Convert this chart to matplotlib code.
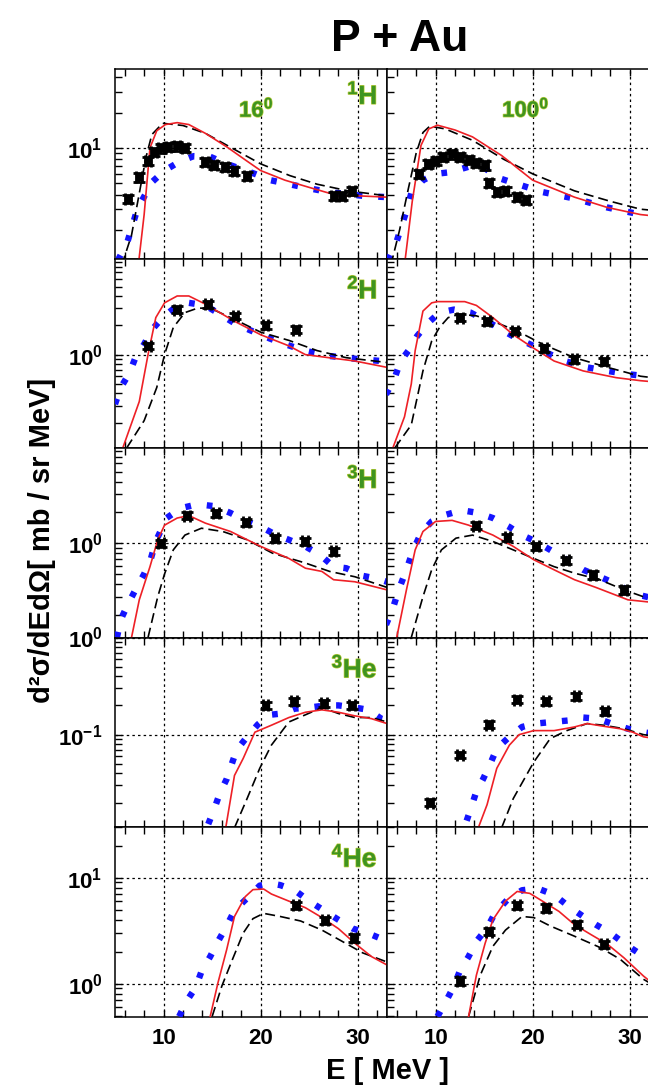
import numpy as np
import matplotlib.pyplot as plt
from matplotlib.ticker import MultipleLocator, LogLocator, FuncFormatter, NullFormatter
import matplotlib.patheffects as pe

plt.rcParams['font.family'] = ['Liberation Sans', 'DejaVu Sans']
plt.rcParams['font.weight'] = 'bold'
plt.rcParams['mathtext.fontset'] = 'custom'
plt.rcParams['mathtext.rm'] = 'Liberation Sans:bold'
plt.rcParams['mathtext.bf'] = 'Liberation Sans:bold'
plt.rcParams['mathtext.it'] = 'Liberation Sans:bold'

# ---------------- 1H ----------------
h1_16_red_E = [7.4, 8.0, 8.6, 9.3, 10.2, 11.4, 12.6, 14.3, 16.5, 18.5, 20.0, 22.5, 25.0, 28.0, 30.0, 33.0]
h1_16_red = [1.0, 2.7, 10.0, 14.0, 15.8, 16.4, 15.8, 13.3, 10.2, 7.8, 6.4, 5.3, 4.6, 3.9, 3.9, 3.8]
h1_16_dash_E = [5.7, 6.7, 7.5, 8.2, 8.8, 9.9, 12.0, 14.3, 17.0, 20.0, 23.0, 25.8, 29.0, 33.0]
h1_16_dash = [1.0, 1.8, 4.1, 8.4, 13.0, 16.2, 15.5, 13.3, 10.0, 7.3, 5.8, 4.9, 4.3, 3.9]
h1_16_blue_E = [5.3, 6.3, 7.3, 8.8, 10.1, 11.6, 13.1, 14.8, 16.5, 19.4, 21.0, 24.5, 27.0, 30.5, 33.0]
h1_16_blue = [1.1, 1.6, 3.0, 5.1, 6.4, 7.6, 8.5, 8.4, 7.3, 6.0, 5.3, 4.6, 4.2, 3.9, 3.8]
h1_16_exp_E = [6.3, 7.5, 8.4, 9.0, 9.7, 10.5, 11.4, 12.2, 14.3, 15.2, 16.3, 17.3, 18.6, 27.5, 28.4, 29.4]
h1_16_exp = [3.7, 5.6, 7.8, 9.2, 9.9, 10.2, 10.3, 10.0, 7.6, 7.2, 6.9, 6.4, 5.8, 3.9, 3.9, 4.3]

h1_100_red_E = [6.8, 7.6, 8.5, 9.3, 10.2, 12.0, 13.8, 16.8, 20.0, 24.3, 27.7, 31.1, 33.0]
h1_100_red = [1.0, 3.5, 10.5, 14.5, 15.6, 14.2, 12.4, 8.6, 5.3, 3.8, 3.1, 2.7, 2.6]
h1_100_dash_E = [5.4, 6.3, 7.2, 8.0, 8.7, 9.4, 11.0, 13.8, 17.0, 20.0, 24.3, 28.0, 31.1, 33.0]
h1_100_dash = [1.0, 2.0, 4.5, 9.0, 13.5, 15.3, 14.5, 11.6, 8.0, 6.0, 4.3, 3.5, 3.0, 2.9]
h1_100_blue_E = [5.1, 6.0, 7.0, 7.5, 8.7, 10.0, 11.5, 13.4, 14.9, 16.3, 17.8, 19.5, 21.0, 24.3, 27.7, 31.1, 33.0]
h1_100_blue = [1.1, 1.6, 2.9, 4.1, 5.3, 6.0, 6.2, 6.9, 6.9, 5.6, 5.1, 4.6, 4.2, 3.7, 3.1, 2.7, 2.6]
h1_100_exp_E = [8.3, 9.2, 10.0, 10.8, 11.7, 12.5, 13.4, 14.2, 15.1, 15.5, 16.3, 17.2, 18.4, 19.3]
h1_100_exp = [6.0, 7.3, 7.8, 8.4, 8.8, 8.4, 7.9, 7.5, 7.1, 5.0, 4.2, 4.3, 3.8, 3.6]

# ---------------- 2H ----------------
h2_16_red_E = [5.8, 7.5, 8.4, 9.2, 10.1, 11.4, 12.6, 14.3, 17.3, 20.0, 22.9, 24.6, 27.0, 29.7, 33.0]
h2_16_red = [0.11, 0.33, 1.0, 2.4, 3.4, 4.0, 4.0, 3.3, 2.2, 1.6, 1.23, 1.0, 0.93, 0.86, 0.74]
h2_16_dash_E = [6.2, 8.0, 9.3, 10.1, 11.0, 12.2, 13.5, 14.8, 17.3, 20.0, 22.9, 25.8, 28.8, 33.0]
h2_16_dash = [0.11, 0.21, 0.46, 1.0, 1.9, 2.7, 3.0, 3.0, 2.3, 1.7, 1.4, 1.1, 0.93, 0.83]
h2_16_blue_E = [5.0, 5.6, 6.5, 7.1, 8.0, 8.8, 9.9, 11.1, 12.6, 14.3, 15.8, 17.3, 18.8, 20.3, 22.0, 24.5, 27.0, 30.0, 33.0]
h2_16_blue = [0.31, 0.46, 0.65, 0.93, 1.28, 1.8, 2.4, 3.0, 3.4, 3.2, 2.6, 2.1, 1.8, 1.55, 1.33, 1.1, 0.97, 0.9, 0.85]
h2_16_exp_E = [8.4, 11.4, 14.6, 17.4, 20.5, 23.6]
h2_16_exp = [1.23, 2.9, 3.3, 2.5, 2.0, 1.8]

h2_100_red_E = [5.6, 6.8, 7.5, 7.9, 8.7, 9.6, 10.2, 13.0, 14.2, 15.9, 18.0, 20.0, 22.2, 25.2, 28.6, 31.1, 33.0]
h2_100_red = [0.11, 0.23, 0.5, 1.1, 2.8, 3.4, 3.5, 3.5, 3.2, 2.4, 1.6, 1.18, 0.86, 0.68, 0.58, 0.54, 0.52]
h2_100_dash_E = [5.8, 7.5, 8.7, 9.6, 10.4, 11.3, 12.5, 14.2, 15.9, 18.4, 21.0, 24.3, 27.7, 31.1, 33.0]
h2_100_dash = [0.11, 0.19, 0.68, 1.38, 1.9, 2.4, 2.6, 2.5, 2.2, 1.75, 1.28, 0.93, 0.74, 0.6, 0.57]
h2_100_blue_E = [4.9, 5.8, 6.4, 7.3, 8.1, 9.2, 10.4, 11.9, 13.6, 15.3, 16.8, 18.2, 19.7, 21.4, 23.3, 25.6, 27.7, 29.8, 33.0]
h2_100_blue = [0.39, 0.58, 0.86, 1.13, 1.55, 2.1, 2.7, 2.9, 2.7, 2.2, 1.8, 1.5, 1.28, 1.05, 0.86, 0.74, 0.68, 0.63, 0.58]
h2_100_exp_E = [12.5, 15.3, 18.2, 21.2, 24.3, 27.3]
h2_100_exp = [2.4, 2.2, 1.75, 1.16, 0.9, 0.86]

# ---------------- 3H ----------------
h3_16_red_E = [6.7, 7.5, 8.6, 9.4, 10.1, 11.4, 12.6, 14.3, 16.9, 20.0, 22.9, 24.6, 26.3, 27.5, 29.7, 33.0]
h3_16_red = [0.12, 0.28, 0.59, 1.08, 1.5, 1.76, 1.86, 1.57, 1.3, 0.93, 0.71, 0.57, 0.53, 0.44, 0.42, 0.35]
h3_16_dash_E = [8.4, 9.4, 10.1, 11.0, 12.2, 13.9, 16.1, 18.6, 21.2, 24.6, 27.1, 29.7, 33.0]
h3_16_dash = [0.12, 0.3, 0.5, 0.86, 1.2, 1.4, 1.3, 1.08, 0.8, 0.64, 0.53, 0.47, 0.37]
h3_16_blue_E = [5.2, 5.6, 6.3, 7.1, 8.0, 8.7, 9.2, 10.3, 11.8, 13.5, 15.2, 16.9, 18.6, 20.3, 21.6, 22.9,
                24.6, 26.1, 27.5, 28.8, 30.5, 32.0, 33.0]
h3_16_blue = [0.12, 0.18, 0.25, 0.35, 0.5, 0.71, 1.04, 1.76, 2.2, 2.4, 2.3, 1.97, 1.63, 1.4, 1.2, 1.08,
              0.93, 0.77, 0.59, 0.57, 0.48, 0.45, 0.42]
h3_16_exp_E = [9.7, 12.4, 15.4, 18.5, 21.5, 24.6, 27.5]
h3_16_exp = [1.0, 1.86, 1.97, 1.6, 1.12, 1.04, 0.83]

h3_100_red_E = [6.0, 7.0, 7.9, 8.7, 10.0, 11.7, 13.4, 15.9, 18.0, 20.1, 22.2, 24.3, 26.5, 28.6, 29.8, 31.4, 33.0]
h3_100_red = [0.12, 0.35, 0.86, 1.3, 1.63, 1.67, 1.5, 1.2, 0.93, 0.69, 0.55, 0.44, 0.37, 0.31, 0.28, 0.27, 0.26]
h3_100_dash_E = [7.5, 8.7, 9.6, 10.6, 12.1, 13.8, 15.9, 18.0, 20.1, 22.2, 24.3, 26.9, 29.4, 31.4, 33.0]
h3_100_dash = [0.12, 0.3, 0.55, 0.86, 1.12, 1.2, 1.04, 0.86, 0.71, 0.59, 0.51, 0.44, 0.35, 0.3, 0.28]
h3_100_blue_E = [4.9, 5.6, 6.2, 7.0, 7.7, 8.5, 9.6, 11.1, 12.7, 14.4, 15.9, 17.6, 18.9, 20.3, 21.8, 23.5,
                 25.2, 26.9, 28.6, 30.5, 33.0]
h3_100_blue = [0.16, 0.23, 0.35, 0.55, 0.86, 1.25, 1.63, 1.9, 2.1, 1.97, 1.76, 1.44, 1.2, 1.04, 0.86, 0.69,
               0.55, 0.47, 0.4, 0.32, 0.28]
h3_100_exp_E = [14.2, 17.4, 20.3, 23.4, 26.2, 29.4]
h3_100_exp = [1.48, 1.15, 0.93, 0.68, 0.49, 0.35]

# ---------------- 3He ----------------
he3_16_red_E = [16.4, 17.3, 18.2, 19.4, 21.1, 22.9, 24.6, 26.3, 28.0, 29.7, 31.4, 33.0]
he3_16_red = [0.011, 0.038, 0.057, 0.106, 0.125, 0.15, 0.17, 0.18, 0.17, 0.156, 0.146, 0.13]
he3_16_dash_E = [17.3, 18.6, 19.9, 21.1, 22.9, 24.6, 26.3, 28.0, 29.7, 31.4, 33.0]
he3_16_dash = [0.011, 0.022, 0.045, 0.078, 0.135, 0.16, 0.19, 0.165, 0.15, 0.15, 0.135]
he3_16_blue_E = [14.6, 15.2, 15.8, 16.5, 17.5, 18.6, 19.7, 20.9, 22.2, 23.5, 25.0, 26.7, 28.0, 29.7, 31.1, 32.4, 33.0]
he3_16_blue = [0.012, 0.017, 0.025, 0.035, 0.069, 0.095, 0.127, 0.16, 0.165, 0.185, 0.19, 0.2, 0.2, 0.19,
               0.18, 0.146, 0.14]
he3_16_exp_E = [20.5, 23.4, 26.5, 29.4]
he3_16_exp = [0.2, 0.22, 0.21, 0.2]

he3_100_red_E = [14.4, 15.3, 16.3, 17.6, 18.6, 20.1, 22.2, 24.3, 25.6, 27.3, 29.0, 30.3, 31.4, 33.0]
he3_100_red = [0.011, 0.019, 0.045, 0.078, 0.1, 0.11, 0.11, 0.12, 0.13, 0.122, 0.115, 0.106, 0.095, 0.09]
he3_100_dash_E = [16.8, 18.0, 20.1, 21.8, 23.5, 25.6, 27.3, 29.4, 31.4, 33.0]
he3_100_dash = [0.011, 0.022, 0.052, 0.091, 0.11, 0.13, 0.125, 0.115, 0.1, 0.095]
he3_100_blue_E = [13.2, 13.6, 14.2, 14.9, 15.7, 16.3, 17.6, 18.9, 20.3, 22.0, 23.7, 25.2, 26.7, 28.4, 29.8, 31.4, 33.0]
he3_100_blue = [0.013, 0.017, 0.026, 0.035, 0.052, 0.072, 0.095, 0.12, 0.13, 0.135, 0.14, 0.15, 0.146,
                0.127, 0.115, 0.106, 0.1]
he3_100_exp_E = [9.4, 12.5, 15.5, 18.4, 21.4, 24.5, 27.4]
he3_100_exp = [0.02, 0.062, 0.127, 0.23, 0.22, 0.25, 0.175]

# ---------------- 4He ----------------
he4_16_red_E = [14.8, 15.6, 16.5, 17.3, 18.4, 19.2, 20.3, 21.1, 22.9, 24.6, 26.3, 28.0, 29.7, 31.4, 33.0]
he4_16_red = [0.49, 1.02, 2.1, 4.3, 6.6, 7.7, 7.8, 7.0, 6.0, 5.2, 4.2, 3.3, 2.4, 1.8, 1.5]
he4_16_dash_E = [15.0, 16.0, 17.1, 18.2, 19.2, 20.3, 22.0, 24.1, 26.3, 28.4, 30.5, 33.0]
he4_16_dash = [0.49, 0.95, 1.7, 3.0, 4.1, 4.6, 4.3, 3.9, 3.2, 2.5, 1.95, 1.6]
he4_16_blue_E = [11.6, 12.4, 13.3, 13.9, 14.8, 15.6, 16.5, 17.3, 18.6, 19.9, 21.1, 22.0, 23.5, 25.0,
                 26.5, 28.0, 29.5, 31.0, 32.2, 33.0]
he4_16_blue = [0.49, 0.69, 0.92, 1.3, 1.8, 2.5, 3.5, 4.9, 6.4, 8.4, 8.8, 8.5, 7.6, 6.0, 4.9, 4.0, 3.3,
               3.0, 2.7, 2.6]
he4_16_exp_E = [23.6, 26.6, 29.6]
he4_16_exp = [5.5, 3.95, 2.7]

he4_100_red_E = [13.4, 14.2, 15.1, 15.9, 17.2, 18.4, 19.7, 21.0, 22.7, 24.3, 26.0, 27.7, 29.4, 31.4, 33.0]
he4_100_red = [0.49, 1.2, 2.4, 4.0, 6.0, 7.4, 7.1, 6.0, 4.8, 3.6, 2.9, 2.35, 1.75, 1.18, 0.9]
he4_100_dash_E = [13.4, 14.6, 15.9, 17.2, 18.9, 20.1, 21.8, 24.3, 26.9, 29.0, 31.4, 33.0]
he4_100_dash = [0.49, 1.2, 2.25, 3.2, 4.3, 4.2, 3.5, 2.8, 2.2, 1.7, 1.1, 0.9]
he4_100_blue_E = [10.2, 11.1, 11.9, 12.5, 13.4, 14.2, 15.3, 16.1, 17.4, 18.9, 20.5, 22.2, 23.7, 25.2,
                  26.5, 28.0, 29.4, 30.7, 33.0]
he4_100_blue = [0.49, 0.69, 0.95, 1.32, 1.8, 2.5, 3.35, 4.6, 6.2, 7.6, 7.9, 6.9, 5.35, 4.3, 3.6, 3.0,
                2.4, 2.0, 1.6]
he4_100_exp_E = [12.5, 15.5, 18.4, 21.4, 24.6, 27.3]
he4_100_exp = [1.06, 3.1, 5.5, 5.2, 3.6, 2.35]

particles = [r'$^{1}$H', r'$^{2}$H', r'$^{3}$H', r'$^{3}$He', r'$^{4}$He']
angles = [r'16$^{0}$', r'100$^{0}$']
y_ranges = [(1.14, 47.0), (0.11, 9.7), (0.12, 8.5), (0.0112, 1.0), (0.49, 30.0)]

rows = [
    [(h1_16_red_E, h1_16_red, h1_16_dash_E, h1_16_dash, h1_16_blue_E, h1_16_blue, h1_16_exp_E, h1_16_exp),
     (h1_100_red_E, h1_100_red, h1_100_dash_E, h1_100_dash, h1_100_blue_E, h1_100_blue, h1_100_exp_E, h1_100_exp)],
    [(h2_16_red_E, h2_16_red, h2_16_dash_E, h2_16_dash, h2_16_blue_E, h2_16_blue, h2_16_exp_E, h2_16_exp),
     (h2_100_red_E, h2_100_red, h2_100_dash_E, h2_100_dash, h2_100_blue_E, h2_100_blue, h2_100_exp_E, h2_100_exp)],
    [(h3_16_red_E, h3_16_red, h3_16_dash_E, h3_16_dash, h3_16_blue_E, h3_16_blue, h3_16_exp_E, h3_16_exp),
     (h3_100_red_E, h3_100_red, h3_100_dash_E, h3_100_dash, h3_100_blue_E, h3_100_blue, h3_100_exp_E, h3_100_exp)],
    [(he3_16_red_E, he3_16_red, he3_16_dash_E, he3_16_dash, he3_16_blue_E, he3_16_blue, he3_16_exp_E, he3_16_exp),
     (he3_100_red_E, he3_100_red, he3_100_dash_E, he3_100_dash, he3_100_blue_E, he3_100_blue, he3_100_exp_E, he3_100_exp)],
    [(he4_16_red_E, he4_16_red, he4_16_dash_E, he4_16_dash, he4_16_blue_E, he4_16_blue, he4_16_exp_E, he4_16_exp),
     (he4_100_red_E, he4_100_red, he4_100_dash_E, he4_100_dash, he4_100_blue_E, he4_100_blue, he4_100_exp_E, he4_100_exp)],
]

W, H = 648, 1089
fig = plt.figure(figsize=(W / 100, H / 100), dpi=100)

green = '#3f9420'
glow = [pe.withStroke(linewidth=1.0, foreground='#b8cc3a')]
top_px, row_px = 69.0, 189.5
col_x = [115.0, 387.0]
panel_w = 272.0


def pow10(v, pos):
    e = int(round(np.log10(v)))
    return r'$\mathbf{10^{%d}}$' % e


for r, row in enumerate(rows):
    bottom_px = top_px + (r + 1) * row_px
    for c, (rE, rY, dE, dY, bE, bY, xE, xY) in enumerate(row):
        ax = fig.add_axes([col_x[c] / W, 1 - bottom_px / H, panel_w / W, row_px / H])
        ax.set_yscale('log')
        ax.set_xlim(5, 33)
        ax.set_ylim(*y_ranges[r])

        # three model curves and the measured points
        ax.plot(bE, bY, color='#1414ff', lw=4.6, linestyle=(0, (0.9, 2.5)),
                dash_capstyle='butt', zorder=3)
        ax.plot(dE, dY, color='black', lw=1.2, linestyle=(0, (6, 3)), zorder=4)
        ax.plot(rE, rY, color='#ee2026', lw=1.2, zorder=5)
        xY = np.array(xY)
        ax.errorbar(xE, xY, yerr=0.08 * xY, xerr=0.3, fmt='s', color='black', ms=5,
                    capsize=4.5, capthick=2.0, elinewidth=1.5, zorder=6)

        ax.xaxis.set_major_locator(MultipleLocator(10))
        ax.xaxis.set_minor_locator(MultipleLocator(2))
        ax.yaxis.set_major_locator(LogLocator(base=10))
        ax.yaxis.set_minor_locator(LogLocator(base=10, subs=np.arange(2, 10)))
        ax.yaxis.set_minor_formatter(NullFormatter())
        ax.tick_params(which='both', direction='in', top=True, right=False, length=5, width=1.0)
        ax.tick_params(axis='x', labelsize=16, pad=8)
        ax.tick_params(axis='y', labelsize=16, pad=9)
        ax.grid(True, which='major', color='black', linestyle=(0, (2, 2.5)), linewidth=0.9)
        for s in ax.spines.values():
            s.set_linewidth(1.1)

        if c == 0:
            ax.yaxis.set_major_formatter(FuncFormatter(pow10))
            ax.text(0.965, 0.86 if r == 0 else 0.835, particles[r], transform=ax.transAxes,
                    ha='right', va='center', fontsize=19, color=green, path_effects=glow)
        else:
            ax.yaxis.set_major_formatter(NullFormatter())
        if r < len(rows) - 1:
            ax.xaxis.set_major_formatter(NullFormatter())
        if r == 0:
            ax.text(0.52 if c == 0 else 0.51, 0.79, angles[c], transform=ax.transAxes,
                    ha='center', va='center', fontsize=16, color=green, path_effects=glow)
        for lab in ax.get_xticklabels() + ax.get_yticklabels():
            lab.set_fontweight('bold')

fig.text(400 / W, 1 - 51 / H, 'P + Au', ha='center', va='baseline', fontsize=32,
         fontweight='bold', family=['Liberation Sans Narrow', 'Liberation Sans'])
fig.text(387 / W, 1 - 1071 / H, 'E [ MeV ]', ha='center', va='center', fontsize=21, fontweight='bold')
fig.text(42 / W, 1 - 540 / H, 'd²σ/dEdΩ[ mb / sr MeV]', ha='center', va='center',
         rotation=90, fontsize=21, fontweight='bold')

fig.savefig('out.png', dpi=100)
